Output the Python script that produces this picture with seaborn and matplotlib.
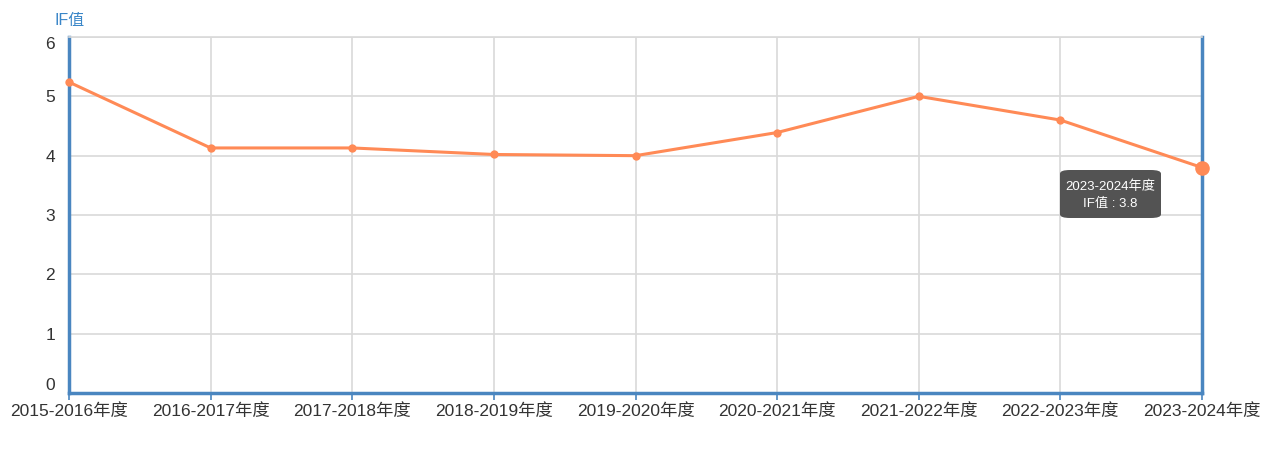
import matplotlib
matplotlib.use("Agg")
import matplotlib.pyplot as plt
import seaborn as sns
import pandas as pd
from matplotlib.patches import FancyBboxPatch

categories = ["2015-2016年度", "2016-2017年度", "2017-2018年度", "2018-2019年度",
              "2019-2020年度", "2020-2021年度", "2021-2022年度", "2022-2023年度",
              "2023-2024年度"]
if_values = [5.24, 4.13, 4.13, 4.02, 4.0, 4.39, 5.0, 4.6, 3.8]
y_ticks = [0, 1, 2, 3, 4, 5, 6]
y_label = "IF值"

sns.set_style("white")
plt.rcParams['font.family'] = ['Liberation Sans', 'Noto Sans CJK SC', 'DejaVu Sans']

W, H = 1279, 453
fig = plt.figure(figsize=(W / 100, H / 100), dpi=100)
ax = fig.add_axes([69 / W, 1 - 393 / H, (1202 - 69) / W, (393 - 37) / H])

df = pd.DataFrame({"cat": categories, "val": if_values, "x": range(len(categories))})
orange = "#ff8a56"
sns.lineplot(data=df, x="x", y="val", ax=ax, color=orange, linewidth=2.2,
             marker="o", markersize=6, markeredgewidth=0, zorder=3)
for ln in ax.get_lines():
    ln.set_clip_on(False)
# highlighted last point
last = df.iloc[-1]
ax.scatter([last["x"]], [last["val"]], s=90, color=orange, zorder=4, clip_on=False)

ax.set_xlim(0, len(categories) - 1)
ax.set_ylim(0, 6)
ax.set_xticks(df["x"])
ax.set_xticklabels(categories, fontsize=12.5, color="#333333")
ax.set_yticks(y_ticks)
ax.set_yticklabels([str(t) for t in y_ticks], fontsize=12.5, color="#333333")
ax.set_xlabel("")
ax.set_ylabel("")

# adjust extreme y labels inward like echarts
for lbl in ax.get_yticklabels():
    if lbl.get_text() == "6":
        lbl.set_verticalalignment("top")
    elif lbl.get_text() == "0":
        lbl.set_verticalalignment("bottom")

ax.grid(True, color="#d9d9d9", linewidth=1.2)
ax.set_axisbelow(True)
for side in ["left", "right", "bottom"]:
    ax.spines[side].set_visible(True)
    ax.spines[side].set_color("#4a86c0")
    ax.spines[side].set_linewidth(2.5)
ax.spines["top"].set_visible(True)
ax.spines["top"].set_color("#d9d9d9")
ax.spines["top"].set_linewidth(1.2)

ax.tick_params(axis="x", length=5, width=1.2, color="#4a86c0", pad=2, bottom=True)
ax.tick_params(axis="y", length=0, pad=10)

fig.text(54 / W, 1 - 20 / H, y_label, color="#3a86c8", fontsize=11.5, va="center", ha="left")

# tooltip
tx0, ty0, tw, th = 1060, 170, 101, 48
box = FancyBboxPatch((tx0 / W, 1 - (ty0 + th) / H), tw / W, th / H,
                     boxstyle="round,pad=0,rounding_size=0.008",
                     transform=fig.transFigure, facecolor="#4d4d4d",
                     edgecolor="none", alpha=0.97, zorder=10)
fig.patches.append(box)
fig.text((tx0 + tw / 2) / W, 1 - 187 / H, categories[-1], color="white",
         fontsize=9.5, ha="center", va="center", zorder=11)
fig.text((tx0 + tw / 2) / W, 1 - 204 / H, f"{y_label} : {if_values[-1]}", color="white",
         fontsize=9.5, ha="center", va="center", zorder=11)

fig.savefig("out.png", dpi=100, facecolor="white")
